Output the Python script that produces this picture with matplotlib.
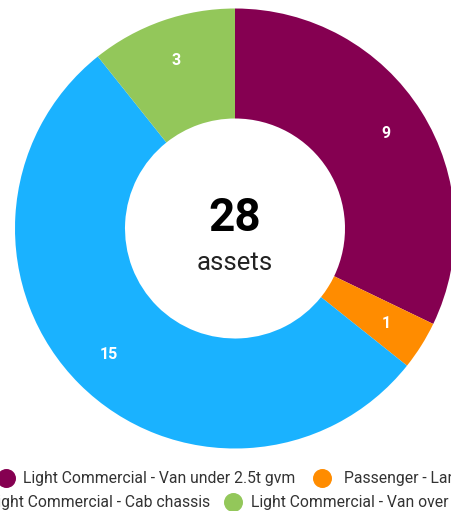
import matplotlib
matplotlib.use('Agg')
import matplotlib.pyplot as plt

plt.rcParams['font.family'] = ['Roboto', 'DejaVu Sans']

labels = ['Light Commercial - Van under 2.5t gvm', 'Passenger - Large',
          'Light Commercial - Cab chassis', 'Light Commercial - Van over 2.5t gvm']
values = [9, 1, 15, 3]
colors = ['#850051', '#FF8C00', '#1AB2FF', '#93C75A']
total = sum(values)

W, H = 451, 511
fig = plt.figure(figsize=(W / 100, H / 100), dpi=100)
ax = fig.add_axes([0, 0, 1, 1])

cx, cy, R = 235, H - 228.5, 220
wedges, texts = ax.pie(values, colors=colors, labels=[str(v) for v in values],
                       startangle=90, counterclock=False, center=(cx, cy),
                       radius=R, labeldistance=0.81, frame=True,
                       wedgeprops=dict(width=R * 0.5, linewidth=0))
for t in texts:
    t.set_ha('center')
    t.set_va('center')
    t.set_color('white')
    t.set_fontweight('bold')
    t.set_fontsize(11.5)
ax.set_xlim(0, W)
ax.set_ylim(0, H)
ax.set_aspect('equal')
ax.axis('off')

ax.text(cx, H - 218, str(total), ha='center', va='center', fontsize=33,
        fontweight='bold', color='black')
ax.text(cx, H - 263, 'assets', ha='center', va='center', fontsize=18.5,
        color='#222222')

# legend is wider than the figure, so it gets cut at both sides
rows = [[(0, 6, 23), (1, 322, 344)], [(2, -27, -11), (3, 233, 251)]]
row_y = [H - 478, H - 502]
for row, y in zip(rows, row_y):
    for i, mx, tx in row:
        ax.scatter([mx], [y], s=160, color=colors[i], clip_on=False, zorder=3)
        ax.text(tx, y, labels[i], ha='left', va='center', fontsize=11.3,
                color='#333333', clip_on=False)

fig.savefig('out.png', dpi=100)
